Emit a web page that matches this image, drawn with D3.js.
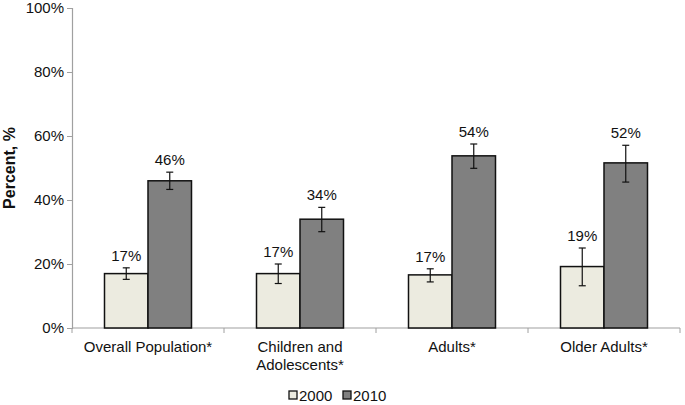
<!DOCTYPE html>
<html><head><meta charset="utf-8">
<script src="https://cdn.jsdelivr.net/npm/d3@7"></script>
<style>body{margin:0;background:#fff}svg{display:block}text{font-family:"Liberation Sans",Arial,sans-serif}</style>
</head><body>
<svg id="c" width="685" height="405"></svg>
<script>
const categories = [["Overall Population*"],["Children and","Adolescents*"],["Adults*"],["Older Adults*"]];
const series = ["2000","2010"];
const values2000 = [17.0, 17.0, 16.6, 19.2];
const values2010 = [46.0, 34.0, 53.8, 51.6];
const errLow2000 = [15.2, 13.9, 14.4, 13.2];
const errHigh2000 = [18.8, 20.0, 18.5, 25.0];
const errLow2010 = [43.3, 30.1, 49.9, 45.6];
const errHigh2010 = [48.7, 37.7, 57.5, 57.1];
const labels2000 = ["17%","17%","17%","19%"];
const labels2010 = ["46%","34%","54%","52%"];
const yTicks = [0,20,40,60,80,100];
const colors = ["#ecebe0","#808080"];

const svg = d3.select("#c");
const mLeft = 72, mRight = 680, mTop = 8, mBottom = 328;
const x0 = d3.scaleBand().domain(d3.range(categories.length)).range([mLeft, mRight]);
const x1 = d3.scaleBand().domain(series).range([0, 87]);
const y = d3.scaleLinear().domain([0,100]).range([mBottom, mTop]);

const data = categories.map((c,i)=>[
  {s:"2000", v:values2000[i], lo:errLow2000[i], hi:errHigh2000[i], lab:labels2000[i]},
  {s:"2010", v:values2010[i], lo:errLow2010[i], hi:errHigh2010[i], lab:labels2010[i]}
]);

// y axis
const ya = svg.append("g").attr("transform",`translate(${mLeft},0)`)
  .call(d3.axisLeft(y).tickValues(yTicks).tickSize(5).tickFormat(d=>d+"%"));
ya.select(".domain").attr("stroke","#a0a0a0").attr("stroke-width",1.2);
ya.selectAll(".tick line").attr("stroke","#a0a0a0");
ya.selectAll(".tick text").attr("font-size",15).attr("fill","#111").attr("x",-8)
  .attr("font-family",'"Liberation Sans",Arial,sans-serif');

// x axis
svg.append("line").attr("x1",mLeft).attr("x2",mRight).attr("y1",mBottom).attr("y2",mBottom)
  .attr("stroke","#a0a0a0").attr("stroke-width",1.2);
svg.selectAll(".xt").data(d3.range(categories.length+1)).join("line")
  .attr("x1",i=>mLeft+i*x0.bandwidth()).attr("x2",i=>mLeft+i*x0.bandwidth())
  .attr("y1",mBottom).attr("y2",mBottom+5).attr("stroke","#a0a0a0");

const g = svg.selectAll(".grp").data(data).join("g")
  .attr("transform",(d,i)=>`translate(${x0(i)+(x0.bandwidth()-87)/2},0)`);
g.selectAll("rect").data(d=>d).join("rect")
  .attr("x",d=>x1(d.s)).attr("width",x1.bandwidth())
  .attr("y",d=>y(d.v)).attr("height",d=>mBottom-y(d.v))
  .attr("fill",(d,i)=>colors[i]).attr("stroke","#111").attr("stroke-width",1.5);
const eb = g.selectAll(".eb").data(d=>d).join("g");
eb.append("line").attr("x1",d=>x1(d.s)+x1.bandwidth()/2).attr("x2",d=>x1(d.s)+x1.bandwidth()/2)
  .attr("y1",d=>y(d.lo)).attr("y2",d=>y(d.hi)).attr("stroke","#111").attr("stroke-width",1.2);
[ "lo","hi" ].forEach(k=>{
  eb.append("line").attr("x1",d=>x1(d.s)+x1.bandwidth()/2-3.5).attr("x2",d=>x1(d.s)+x1.bandwidth()/2+3.5)
    .attr("y1",d=>y(d[k])).attr("y2",d=>y(d[k])).attr("stroke","#111").attr("stroke-width",1.2);
});
g.selectAll(".lab").data(d=>d).join("text")
  .attr("x",d=>x1(d.s)+x1.bandwidth()/2).attr("y",d=>y(d.hi)-7)
  .attr("text-anchor","middle").attr("font-size",15).attr("fill","#111").text(d=>d.lab);

// category labels
svg.selectAll(".cat").data(categories).join("text")
  .attr("x",(d,i)=>x0(i)+x0.bandwidth()/2).attr("y",352)
  .attr("text-anchor","middle").attr("font-size",15).attr("fill","#111")
  .each(function(d){
    d3.select(this).selectAll("tspan").data(d).join("tspan")
      .attr("x",d3.select(this).attr("x")).attr("dy",(t,j)=>j?18:0).text(t=>t);
  });

// y title
svg.append("text").attr("transform","translate(15,168) rotate(-90)")
  .attr("text-anchor","middle").attr("font-size",16).attr("font-weight","bold").attr("fill","#111")
  .text("Percent, %");

// legend
const lg = svg.selectAll(".lg").data(series).join("g")
  .attr("transform",(d,i)=>`translate(${289+i*54},391)`);
lg.append("rect").attr("width",8).attr("height",8).attr("fill",(d,i)=>colors[i])
  .attr("stroke","#111").attr("stroke-width",1.3);
lg.append("text").attr("x",10).attr("y",9.5).attr("font-size",15).attr("fill","#111").text(d=>d);
</script>
</body></html>
